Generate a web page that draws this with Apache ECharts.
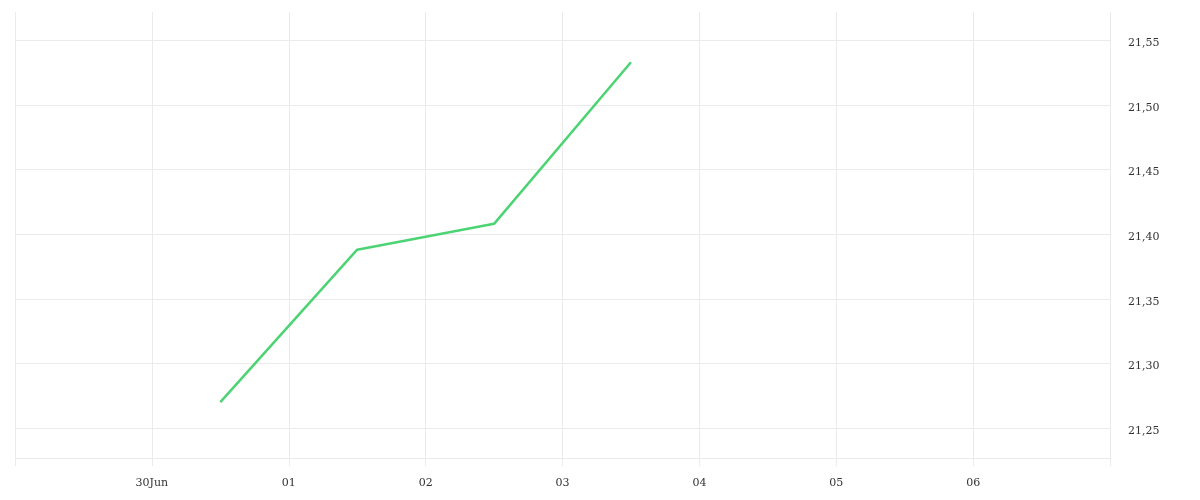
<!DOCTYPE html>
<html>
<head>
<meta charset="utf-8">
<script src="https://cdn.jsdelivr.net/npm/echarts@6/dist/echarts.min.js"></script>
<style>html,body{margin:0;padding:0;background:#fff;}#c{width:1200px;height:500px;}</style>
</head>
<body>
<div id="c"></div>
<script>
// day offsets from 29 Jun (0) to 07 Jul (8)
var tickLabels = ["", "30Jun", "01", "02", "03", "04", "05", "06", ""];
var dayOffsets = [1.5, 2.5, 3.5, 4.5];
var values = [21.270, 21.388, 21.408, 21.533];
var yMin = 21.2268, yMax = 21.5719;

var data = dayOffsets.map(function (d, i) { return [d, values[i]]; });
var font = 'DejaVu Serif';
var chart = echarts.init(document.getElementById('c'));
chart.setOption({
  animation: false,
  backgroundColor: '#fff',
  grid: { left: 15, right: 90, top: 12, bottom: 42, containLabel: false },
  xAxis: {
    type: 'value', min: 0, max: 8, interval: 1,
    axisLine: { show: true, lineStyle: { color: '#ebebeb', width: 1 } },
    axisTick: { show: true, length: 8, lineStyle: { color: '#ebebeb' } },
    splitLine: { show: true, lineStyle: { color: '#ebebeb', width: 1 } },
    axisLabel: {
      show: true, margin: 20, color: '#333', fontFamily: font, fontSize: 11,
      showMinLabel: true, showMaxLabel: true,
      formatter: function (v) { return tickLabels[Math.round(v)] || ''; }
    }
  },
  yAxis: {
    type: 'value', position: 'right', min: yMin, max: yMax, scale: true,
    axisLine: { show: false },
    axisTick: { show: false },
    splitLine: { show: true, showMinLine: true, showMaxLine: false, lineStyle: { color: '#ebebeb', width: 1 } },
    axisLabel: {
      margin: 18, color: '#333', fontFamily: font, fontSize: 11,
      showMinLabel: false, showMaxLabel: false,
      formatter: function (v) { return '{a|' + v.toFixed(2).replace('.', ',') + '}'; },
      rich: { a: { color: '#333', fontFamily: font, fontSize: 11, padding: [6, 0, 0, 0] } }
    }
  },
  series: [{
    type: 'line', data: data, showSymbol: false, symbol: 'none',
    lineStyle: { color: '#4cd474', width: 2.5 }
  }]
});
</script>
</body>
</html>
